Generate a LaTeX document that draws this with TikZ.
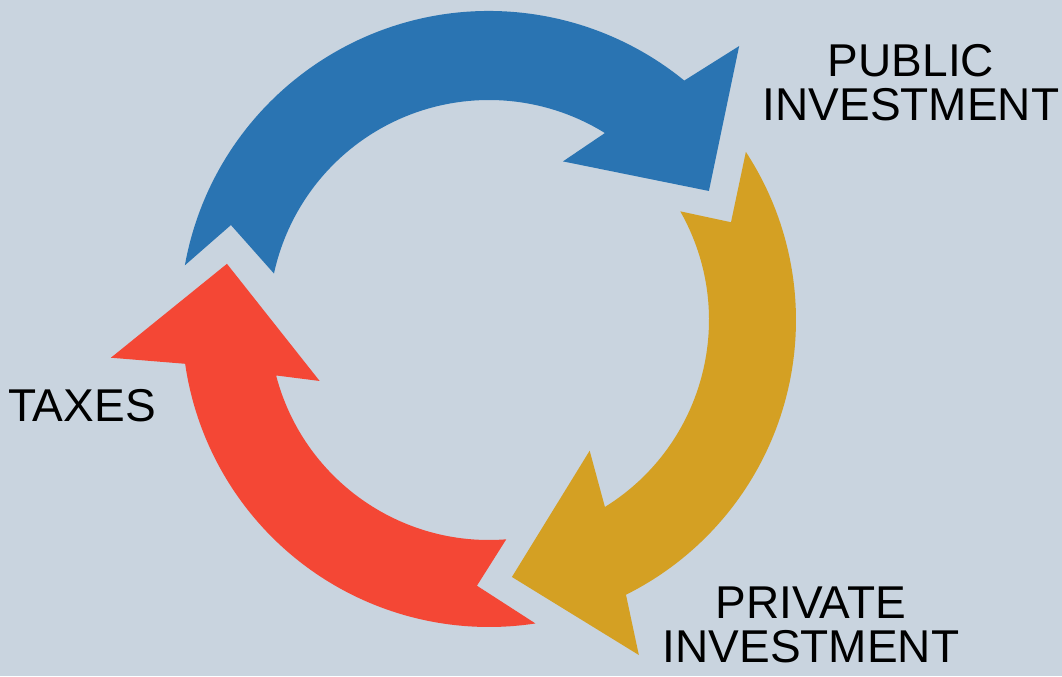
\documentclass[tikz,border=0pt]{standalone}
\usepackage{fontspec}
\setmainfont{Liberation Sans}

\definecolor{bgcol}{RGB}{201,212,223}
\definecolor{pubblue}{RGB}{42,116,178}
\definecolor{privgold}{RGB}{212,160,35}
\definecolor{taxred}{RGB}{244,71,53}

\begin{document}
\begin{tikzpicture}[x=0.5pt, y=0.5pt,
  label/.style={inner sep=0pt, anchor=south, align=center, font=\fontsize{23}{21.9}\selectfont}]

\fill[bgcol] (-489,320) rectangle (573,-356);
\useasboundingbox (-489,320) rectangle (573,-356);

\fill[pubblue] (169.8:309) arc[start angle=169.8, end angle=50.8, radius=309]
  -- (47.6:371) -- (30.4:255) -- (65:175) -- (58.2:220)
  arc[start angle=58.2, end angle=167.8, radius=220] -- (159.8:275) -- cycle;

\fill[privgold] (33.2:307) arc[start angle=33.2, end angle=-63.5, radius=307]
  -- (-65.9:367) -- (-84.9:258) -- (-52.4:165) -- (-58.2:220)
  arc[start angle=-58.2, end angle=29.6, radius=220] -- (22:261) -- cycle;

\fill[taxred] (-81.3:307) arc[start angle=-81.3, end angle=-171.8, radius=307]
  -- (-174.3:380) -- (-192.1:268) -- (-160.2:180) -- (-165.4:220)
  arc[start angle=-165.4, end angle=-85.5, radius=220] -- (-92.6:266) -- cycle;

\node[label, name=pub] at (422,199) {PUBLIC\\INVESTMENT};
\node[label, name=priv] at (322,-343) {PRIVATE\\INVESTMENT};
\node[label, name=tax] at (-407,-102) {TAXES};
\end{tikzpicture}
\end{document}
